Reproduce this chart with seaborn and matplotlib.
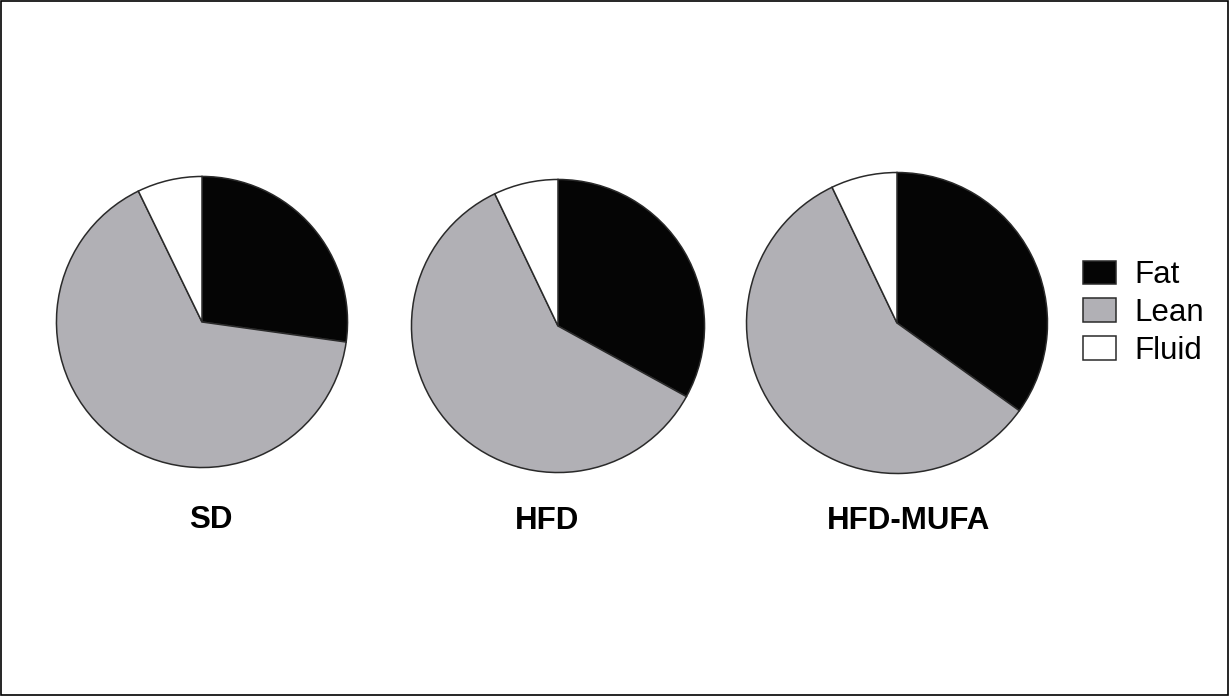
import matplotlib
matplotlib.use("Agg")
import matplotlib.pyplot as plt
import seaborn as sns
from matplotlib.patches import Rectangle

# ----------------------------
# Data (percent of body mass)
# ----------------------------
groups = ["SD", "HFD", "HFD-MUFA"]
components = ["Fat", "Lean", "Fluid"]
sd_values = [27.2, 65.6, 7.2]
hfd_values = [33.0, 59.9, 7.1]
mufa_values = [34.9, 58.0, 7.1]

colors = ["#050505", "#b1b0b5", "#ffffff"]

sns.set_theme(style="white")
plt.rcParams["font.family"] = ["Liberation Sans", "DejaVu Sans"]
plt.rcParams["text.color"] = "black"

W, H = 1229, 696
fig = plt.figure(figsize=(W / 100, H / 100), dpi=100)

# pie boxes in pixels: (center x, center y, radius)
boxes = [(202, 322, 147), (558, 326, 148), (897, 323, 152)]
label_pos = [(211, 520), (547, 521), (909, 521)]
all_values = [sd_values, hfd_values, mufa_values]

wedges = None
for vals, (cx, cy, r), (lx, ly), name in zip(all_values, boxes, label_pos, groups):
    ax = fig.add_axes([(cx - r) / W, (H - cy - r) / H, 2 * r / W, 2 * r / H])
    w, _ = ax.pie(
        vals,
        colors=colors,
        startangle=90,
        counterclock=False,
        radius=1,
        wedgeprops={"edgecolor": "#2a2a2a", "linewidth": 1.1},
    )
    ax.set_xlim(-1.01, 1.01)
    ax.set_ylim(-1.01, 1.01)
    ax.set_aspect("auto")
    ax.axis("off")
    fig.text(lx / W, 1 - ly / H, name, ha="center", va="center",
             fontsize=22.5, fontweight="bold", color="black")
    if wedges is None:
        wedges = w

leg = fig.legend(
    wedges, components,
    loc="center left",
    bbox_to_anchor=(1083 / W, 1 - 313 / H),
    frameon=False,
    fontsize=22.5,
    handlelength=1.05,
    handleheight=0.78,
    handletextpad=0.6,
    labelspacing=0.25,
    borderpad=0,
    borderaxespad=0,
)
for t in leg.get_texts():
    t.set_color("black")

# thin frame around the whole picture
fig.patches.append(Rectangle((0.0008, 0.0015), 0.9984, 0.997, transform=fig.transFigure,
                             fill=False, edgecolor="black", linewidth=1.2))

plt.savefig("out.png", dpi=100, facecolor="white")
